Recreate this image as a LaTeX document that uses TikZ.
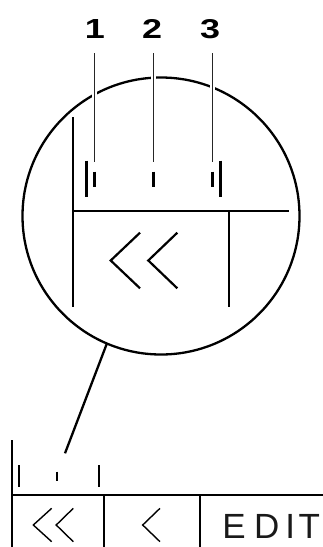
\documentclass[tikz,border=0pt]{standalone}
\usepackage{graphicx}
\usepackage{fontspec}
\setmainfont{Liberation Sans}
\newcommand\mynum[1]{\resizebox{20pt}{19pt}{\fontsize{26}{26}\selectfont\bfseries #1}}
\begin{document}
\begin{tikzpicture}[x=1pt,y=-1pt,
  numlabel/.style={inner sep=0pt, anchor=base},
  leader/.style={line width=0.9pt, black!85},
  halo/.style={line width=5pt, white},
  thick2/.style={line width=2.3pt, line cap=butt},
  tickbig/.style={line width=3pt},
  thin/.style={line width=1.6pt},
  chev/.style={line width=2.2pt, line join=miter},
  chevs/.style={line width=1.4pt, line join=miter}]
\useasboundingbox (0,0) rectangle (323,547);

% labels
\node[numlabel] (l1) at (94.9,38.3) {\mynum{1}};
\node[numlabel] (l2) at (152.2,38.3) {\mynum{2}};
\node[numlabel] (l3) at (210,38.3) {\mynum{3}};

% magnifier circle
\node[draw, circle, line width=2.3pt, minimum size=277pt, inner sep=0pt, outer sep=0pt] (circ) at (161,216) {};

% leader lines with white halo over circle
\coordinate (t1) at (94,53.3);  \coordinate (b1) at (94,162);
\coordinate (t2) at (153,53.3); \coordinate (b2) at (153,162);
\coordinate (t3) at (212,53.3); \coordinate (b3) at (212,162);
\foreach \i in {1,2,3}{
  \draw[halo] (t\i) -- (b\i);
  \draw[leader] (t\i) -- (b\i);
}

% zoomed display contents
\draw[thick2] (73.3,117) -- (73.3,307);
\draw[thick2] (73.3,210.7) -- (289,210.7);
\draw[thick2] (229,210.7) -- (229,307);
% ticks
\draw[tickbig] (86,160.7) -- (86,196.7);
\draw[tickbig] (94,171.7) -- (94,186.7);
\draw[tickbig] (153,171.7) -- (153,186.7);
\draw[tickbig] (212,171.7) -- (212,186.7);
\draw[tickbig] (220.7,160.7) -- (220.7,196.7);
% double chevron
\draw[chev] (140,232.7) -- (110.7,260.5) -- (140,288.3);
\draw[chev] (177.3,232.7) -- (148.3,260.5) -- (177.3,288.3);

% connector
\coordinate (pt) at (65,453.3);
\draw[line width=2.3pt] (circ.247.3) -- (pt);

% actual display
\draw[thin] (11.7,440) -- (11.7,547);
\draw[thin] (11.7,495) -- (323,495);
\draw[line width=1.3pt] (19,465) -- (19,487);
\draw[line width=2pt] (56.7,471.7) -- (56.7,480.7);
\draw[line width=1.3pt] (99,465) -- (99,487);
\draw[thin] (104,495) -- (104,547);
\draw[thin] (200,495) -- (200,547);
\draw[chevs] (51.7,508.3) -- (33.3,525) -- (51.7,541.7);
\draw[chevs] (73.3,508.3) -- (56.2,525) -- (73.3,541.7);
\draw[chevs] (160,508.3) -- (142.7,525) -- (160,541.7);
\node[inner sep=0pt, anchor=base west, font=\fontsize{35}{35}\selectfont, text=black!90] (edit) at (222.2,538.3) {E\kern8.4pt D\kern5.9pt I\kern3.5pt T};
\end{tikzpicture}
\end{document}
